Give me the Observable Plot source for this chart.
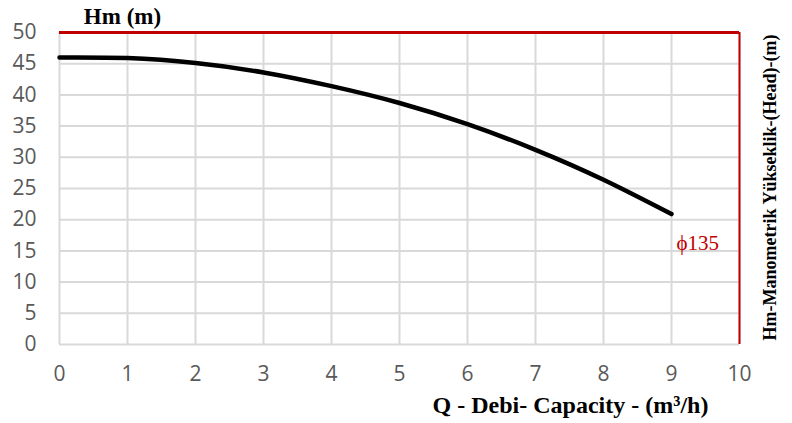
<!DOCTYPE html>
<html>
<head>
<meta charset="utf-8">
<script src="https://cdn.jsdelivr.net/npm/d3@7"></script>
<script src="https://cdn.jsdelivr.net/npm/@observablehq/plot@0.6"></script>
<style>
  html, body { margin: 0; padding: 0; background: #fff; }
  #chart svg { display: block; }
</style>
</head>
<body>
<div id="chart"></div>
<script>
const flow = [0, 1, 2, 3, 4, 5, 6, 7, 8, 9];
const head = [46.0, 45.9, 45.1, 43.6, 41.4, 38.7, 35.3, 31.2, 26.4, 20.9];
const xTicks = [0, 1, 2, 3, 4, 5, 6, 7, 8, 9, 10];
const yTicks = [0, 5, 10, 15, 20, 25, 30, 35, 40, 45, 50];
const curveLabel = "ϕ135";
const titleText = "Hm (m)";
const xLabelText = "Q - Debi- Capacity - (m³/h)";
const rightLabelText = "Hm-Manometrik Yükseklik-(Head)-(m)";

const data = flow.map((q, i) => ({q, h: head[i]}));
const serif = "'Liberation Serif', 'Times New Roman', serif";
const grey = "#d9d9d9";

const chart = Plot.plot({
  width: 792,
  height: 423,
  marginLeft: 59,
  marginRight: 53,
  marginTop: 32,
  marginBottom: 79,
  style: {fontFamily: "'Open Sans', sans-serif", fontSize: "21px", background: "#fff"},
  x: {domain: [0, 10], ticks: xTicks},
  y: {domain: [0, 50], ticks: yTicks},
  marks: [
    Plot.ruleX(xTicks, {stroke: grey, strokeWidth: 2}),
    Plot.ruleY(yTicks, {stroke: grey, strokeWidth: 2}),
    Plot.ruleY([50], {stroke: "#c00000", strokeWidth: 3}),
    Plot.ruleX([10], {stroke: "#c00000", strokeWidth: 2}),
    Plot.line(data, {x: "q", y: "h", curve: "natural", stroke: "#000", strokeWidth: 4.5}),
    Plot.axisX({ticks: xTicks, tickSize: 0, tickPadding: 22, fontSize: 21, fill: "#595959", label: null}),
    Plot.axisY({ticks: yTicks, tickSize: 0, tickPadding: 23, fontSize: 21, fill: "#595959", label: null}),
    Plot.text([curveLabel], {x: 9, y: 16.3, text: d => d, textAnchor: "start", dx: 5, fill: "#c00000", fontSize: 21, fontFamily: serif}),
    Plot.text([titleText], {frameAnchor: "top-left", lineAnchor: "middle", text: d => d, dx: 63, dy: -16, textAnchor: "middle", fontSize: 23, fontWeight: "bold", fontFamily: serif, fill: "#000"}),
    Plot.text([xLabelText], {frameAnchor: "bottom-left", lineAnchor: "middle", text: d => d, dx: 511, dy: 61, textAnchor: "middle", fontSize: 24, fontWeight: "bold", fontFamily: serif, fill: "#000"}),
    Plot.text([rightLabelText], {frameAnchor: "right", lineAnchor: "middle", text: d => d, dx: 31, dy: -1, rotate: -90, textAnchor: "middle", fontSize: 18, fontWeight: "bold", fontFamily: serif, fill: "#000"})
  ]
});
document.getElementById("chart").appendChild(chart);
</script>
</body>
</html>
